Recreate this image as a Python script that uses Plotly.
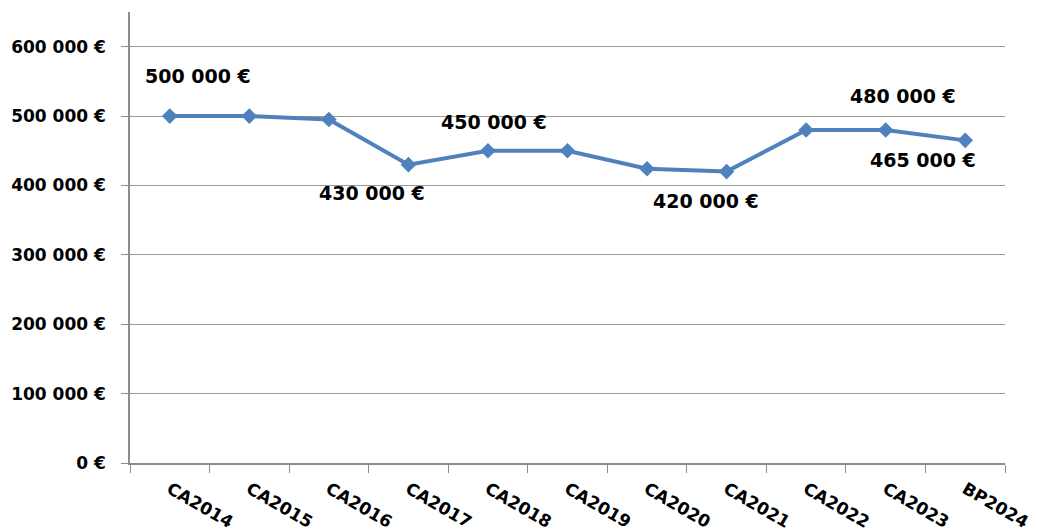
import plotly.graph_objects as go

categories = ["CA2014", "CA2015", "CA2016", "CA2017", "CA2018", "CA2019",
              "CA2020", "CA2021", "CA2022", "CA2023", "BP2024"]
values = [500000, 500000, 495000, 430000, 450000, 450000,
          424000, 420000, 480000, 480000, 465000]
y_ticks = [0, 100000, 200000, 300000, 400000, 500000, 600000]

# which points get a data label, and where the label sits relative to the point (px)
label_idx = [0, 3, 4, 7, 9, 10]
label_shift = [(28, 40), (-36, -28), (6, 29), (-21, -29), (17, 34), (-42, -20)]


def fmt(v):
    return f"{v:,}".replace(",", " ") + " €"


fig = go.Figure()
fig.add_trace(go.Scatter(
    x=categories, y=values, mode="lines+markers",
    line=dict(color="#4F81BD", width=4),
    marker=dict(symbol="diamond", size=12, color="#4F81BD"),
    hoverinfo="skip",
))

for i, (dx, dy) in zip(label_idx, label_shift):
    fig.add_annotation(
        x=categories[i], y=values[i], text=fmt(values[i]), showarrow=False,
        xshift=dx, yshift=dy,
        font=dict(family="DejaVu Sans", size=19, color="black", weight="bold"),
    )

fig.update_layout(
    width=1029, height=523,
    margin=dict(l=122, r=32, t=4, b=68, autoexpand=False),
    paper_bgcolor="white", plot_bgcolor="white",
    showlegend=False,
)
fig.update_xaxes(
    type="category", tickson="boundaries", ticks="outside", ticklen=8,
    tickcolor="#8c8c8c", showline=True, linecolor="#8c8c8c", linewidth=1.5,
    showgrid=False, tickangle=30, automargin=False, ticklabelstandoff=8,
    tickfont=dict(family="DejaVu Sans", size=17, color="black", weight="bold"),
    range=[-0.5, len(categories) - 0.5],
)
fig.update_yaxes(
    range=[0, 650000], tickvals=y_ticks, ticktext=[fmt(v) for v in y_ticks],
    ticks="outside", ticklen=7, tickcolor="#8c8c8c", automargin=False,
    ticklabelstandoff=12,
    showline=True, linecolor="#8c8c8c", linewidth=1.5,
    showgrid=True, gridcolor="#9a9a9a", gridwidth=1, zeroline=False,
    tickfont=dict(family="DejaVu Sans", size=17, color="black", weight="bold"),
)

fig.write_html("out.html")
